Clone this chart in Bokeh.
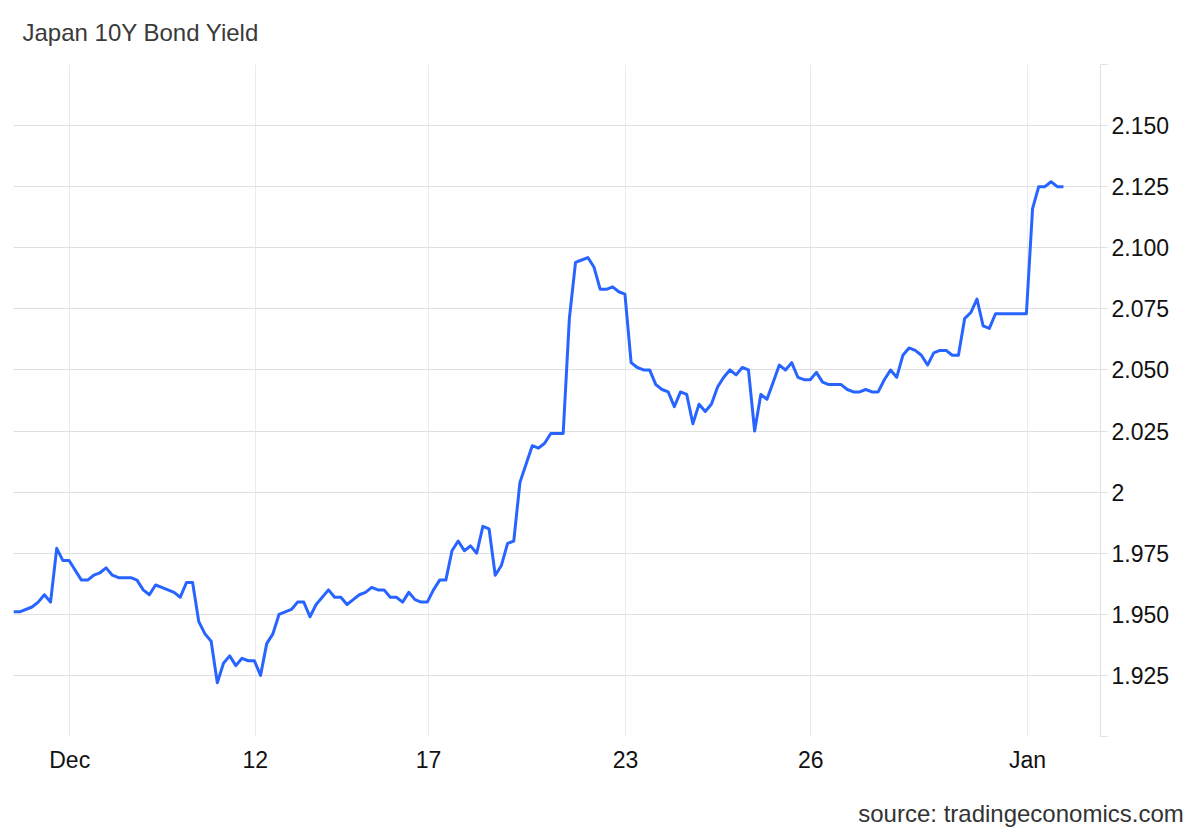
from bokeh.plotting import figure
from bokeh.models import Range1d, FixedTicker, LinearAxis
from bokeh.embed import file_html
from bokeh.resources import INLINE

# observation index (roughly one step per trading interval) and yield values
obs_index = [0, 1, 3, 4, 5, 6, 7, 8, 9, 11, 12, 13, 14, 15, 16, 17, 19, 20, 21, 22,
             23, 24, 25, 26, 27, 28, 29, 30, 31, 32, 33, 34, 35, 36, 37, 38, 39, 40,
             41, 42, 43, 45, 46, 47, 48, 49, 51, 52, 53, 54, 55, 56, 57, 58, 59, 60,
             61, 62, 63, 64, 65, 66, 67, 68, 69, 70, 71, 72, 73, 74, 75, 76, 77, 78,
             79, 80, 81, 82, 83, 84, 85, 86, 87, 88, 89, 90, 91, 92, 93, 94, 95, 96,
             97, 98, 99, 100, 101, 102, 103, 104, 105, 106, 107, 108, 109, 110, 111,
             112, 113, 114, 115, 116, 117, 118, 119, 120, 121, 122, 123, 124, 125,
             126, 127, 128, 129, 130, 131, 132, 134, 135, 136, 137, 138, 139, 140,
             141, 142, 143, 144, 145, 146, 147, 148, 149, 150, 151, 152, 153, 154,
             155, 156, 157, 158, 159, 164, 165, 166, 167, 168, 169, 170]
yield_pct = [1.951, 1.951, 1.953, 1.955, 1.958, 1.955, 1.977, 1.972, 1.972, 1.964,
             1.964, 1.966, 1.967, 1.969, 1.966, 1.965, 1.965, 1.964, 1.960, 1.958,
             1.962, 1.961, 1.960, 1.959, 1.957, 1.963, 1.963, 1.947, 1.942, 1.939,
             1.922, 1.930, 1.933, 1.929, 1.932, 1.931, 1.931, 1.925, 1.938, 1.942,
             1.950, 1.952, 1.955, 1.955, 1.949, 1.954, 1.960, 1.957, 1.957, 1.954,
             1.956, 1.958, 1.959, 1.961, 1.960, 1.960, 1.957, 1.957, 1.955, 1.959,
             1.956, 1.955, 1.955, 1.960, 1.964, 1.964, 1.976, 1.980, 1.976, 1.978,
             1.975, 1.986, 1.985, 1.966, 1.970, 1.979, 1.980, 2.004, 2.0115, 2.019,
             2.018, 2.020, 2.024, 2.024, 2.024, 2.071, 2.094, 2.095, 2.096, 2.092,
             2.083, 2.083, 2.084, 2.082, 2.081, 2.053, 2.051, 2.050, 2.050, 2.044,
             2.042, 2.041, 2.035, 2.041, 2.040, 2.028, 2.036, 2.033, 2.036, 2.043,
             2.047, 2.050, 2.048, 2.051, 2.050, 2.025, 2.040, 2.038, 2.045, 2.052,
             2.050, 2.053, 2.047, 2.046, 2.046, 2.049, 2.045, 2.044, 2.044, 2.042,
             2.041, 2.041, 2.042, 2.041, 2.041, 2.046, 2.050, 2.047, 2.056, 2.059,
             2.058, 2.056, 2.052, 2.057, 2.058, 2.058, 2.056, 2.056, 2.071, 2.0735,
             2.079, 2.068, 2.067, 2.073, 2.073, 2.116, 2.125, 2.125, 2.127, 2.125,
             2.125]

x_tick_pos = [9.1, 39.15, 67.2, 99.1, 129.1, 164.2]
x_tick_labels = ["Dec", "12", "17", "23", "26", "Jan"]
y_tick_vals = [1.9, 1.925, 1.95, 1.975, 2.0, 2.025, 2.05, 2.075, 2.1, 2.125, 2.15, 2.175]
y_tick_labels = ["", "1.925", "1.950", "1.975", "2", "2.025", "2.050", "2.075",
                 "2.100", "2.125", "2.150", ""]
title_text = "Japan 10Y Bond Yield"
source_text = "source: tradingeconomics.com"
source_anchor = [163.13]   # horizontal centre of the source note, in x-axis units

FONT = "Liberation Sans"

p = figure(width=1200, height=832,
           x_range=Range1d(0, 176), y_range=Range1d(1.9, 2.175),
           y_axis_location="right", output_backend="svg", toolbar_location=None,
           min_border_left=13, min_border_right=100, min_border_top=64,
           min_border_bottom=96)
p.outline_line_color = None
p.background_fill_color = "white"
p.border_fill_color = "white"

p.title.text = title_text
p.title.text_font = FONT
p.title.text_font_size = "24px"
p.title.text_font_style = "normal"
p.title.text_color = "#3a3a3a"
p.title.offset = 9
p.title.vertical_align = "top"
p.title.standoff = 34

# x axis
xa = p.xaxis[0]
xa.ticker = FixedTicker(ticks=x_tick_pos)
xa.major_label_overrides = dict(zip(x_tick_pos, x_tick_labels))
xa.axis_line_color = None
xa.major_tick_line_color = None
xa.major_tick_out = 0
xa.major_tick_in = 0
xa.minor_tick_line_color = None
xa.major_label_text_font = FONT
xa.major_label_text_font_size = "23px"
xa.major_label_text_color = "#111111"
xa.major_label_standoff = 10

# source note, placed as a second label row below the dates
sa = LinearAxis(ticker=FixedTicker(ticks=source_anchor),
                major_label_overrides=dict(zip(source_anchor, [source_text])),
                axis_line_color=None, major_tick_line_color=None,
                minor_tick_line_color=None, major_tick_out=0, major_tick_in=0,
                major_label_standoff=24, major_label_text_font=FONT,
                major_label_text_font_size="24px", major_label_text_color="#333333")
p.add_layout(sa, "below")

# y axis (right)
ya = p.yaxis[0]
ya.ticker = FixedTicker(ticks=y_tick_vals)
ya.major_label_overrides = dict(zip(y_tick_vals, y_tick_labels))
ya.axis_line_color = "#e0e0e0"
ya.major_tick_line_color = "#e0e0e0"
ya.major_tick_out = 7
ya.major_tick_in = 0
ya.minor_tick_line_color = None
ya.major_label_text_font = FONT
ya.major_label_text_font_size = "23px"
ya.major_label_text_color = "#111111"
ya.major_label_standoff = 4

p.xgrid.ticker = FixedTicker(ticks=x_tick_pos)
p.xgrid.grid_line_color = "#e6ecf4"
p.xgrid.grid_line_width = 1
p.ygrid.ticker = FixedTicker(ticks=y_tick_vals)
p.ygrid.grid_line_color = "#e0e0e0"
p.ygrid.grid_line_width = 1

p.line(obs_index, yield_pct, line_color="#2864ff", line_width=3, line_join="round")

open("out.html", "w").write(file_html(p, INLINE))
